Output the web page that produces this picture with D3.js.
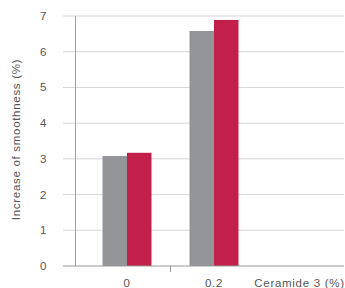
<!DOCTYPE html>
<html>
<head>
<meta charset="utf-8">
<script src="https://cdn.jsdelivr.net/npm/d3@7"></script>
<style>
  body { margin: 0; background: #fff; }
  text { font-family: "Liberation Sans", Arial, sans-serif; fill: #555; }
</style>
</head>
<body>
<svg id="chart" width="345" height="288"></svg>
<script>
var categories = ["0", "0.2"];
var greyValues = [3.08, 6.58];
var redValues = [3.17, 6.89];
var yTicks = [0, 1, 2, 3, 4, 5, 6, 7];

var svg = d3.select("#chart");

var y = d3.scaleLinear().domain([0, 7]).range([266, 16]);
var x = d3.scaleBand()
	.domain(categories)
	.range([83.5, 257.5])
	.paddingInner(0.437)
	.paddingOuter(0.2185);
var sub = d3.scaleBand()
	.domain(["grey", "red"])
	.range([0, x.bandwidth()]);

/* gridlines */
svg.selectAll(".grid")
	.data(yTicks.filter(function(d) { return d > 0; }))
	.enter()
	.append("line")
	.attr("x1", 63)
	.attr("x2", 344)
	.attr("y1", function(d) { return y(d); })
	.attr("y2", function(d) { return y(d); })
	.attr("stroke", "#d6d6d6")
	.attr("stroke-width", 1);

/* y tick labels */
svg.selectAll(".ylab")
	.data(yTicks)
	.enter()
	.append("text")
	.attr("x", 46.5)
	.attr("y", function(d) { return y(d) + 4; })
	.attr("text-anchor", "end")
	.attr("font-size", 11.5)
	.text(function(d) { return d; });

/* bars */
var rows = categories.map(function(c, i) {
	return { cat: c, grey: greyValues[i], red: redValues[i] };
});

var groups = svg.selectAll(".grp")
	.data(rows)
	.enter()
	.append("g")
	.attr("transform", function(d) { return "translate(" + x(d.cat) + ",0)"; });

groups.append("rect")
	.attr("x", sub("grey"))
	.attr("width", sub.bandwidth())
	.attr("y", function(d) { return y(d.grey); })
	.attr("height", function(d) { return y(0) - y(d.grey); })
	.attr("fill", "#939598");

groups.append("rect")
	.attr("x", sub("red"))
	.attr("width", sub.bandwidth())
	.attr("y", function(d) { return y(d.red); })
	.attr("height", function(d) { return y(0) - y(d.red); })
	.attr("fill", "#c21f4a");

/* axes lines */
svg.append("line")
	.attr("x1", 75.5).attr("x2", 75.5)
	.attr("y1", y(7)).attr("y2", y(0))
	.attr("stroke", "#a0a0a0");

svg.append("line")
	.attr("x1", 63).attr("x2", 344)
	.attr("y1", y(0)).attr("y2", y(0))
	.attr("stroke", "#9a9a9a")
	.attr("stroke-width", 1.2);

/* tick between categories */
var mid = (x(categories[0]) + x.bandwidth() + x(categories[1])) / 2;
svg.append("line")
	.attr("x1", mid).attr("x2", mid)
	.attr("y1", y(0)).attr("y2", y(0) + 6)
	.attr("stroke", "#9a9a9a");

/* x labels */
svg.selectAll(".xlab")
	.data(categories)
	.enter()
	.append("text")
	.attr("x", function(d) { return x(d) + x.bandwidth() / 2; })
	.attr("y", 286.5)
	.attr("text-anchor", "middle")
	.attr("font-size", 11.5)
	.attr("letter-spacing", 0.7)
	.text(function(d) { return d; });

svg.append("text")
	.attr("x", 344.7)
	.attr("y", 286.5)
	.attr("text-anchor", "end")
	.attr("font-size", 11.5)
	.attr("letter-spacing", 0.7)
	.text("Ceramide 3 (%)");

svg.append("text")
	.attr("transform", "translate(19.5,139.5) rotate(-90)")
	.attr("text-anchor", "middle")
	.attr("font-size", 11.5)
	.attr("letter-spacing", 0.7)
	.text("Increase of smoothness (%)");
</script>
</body>
</html>
